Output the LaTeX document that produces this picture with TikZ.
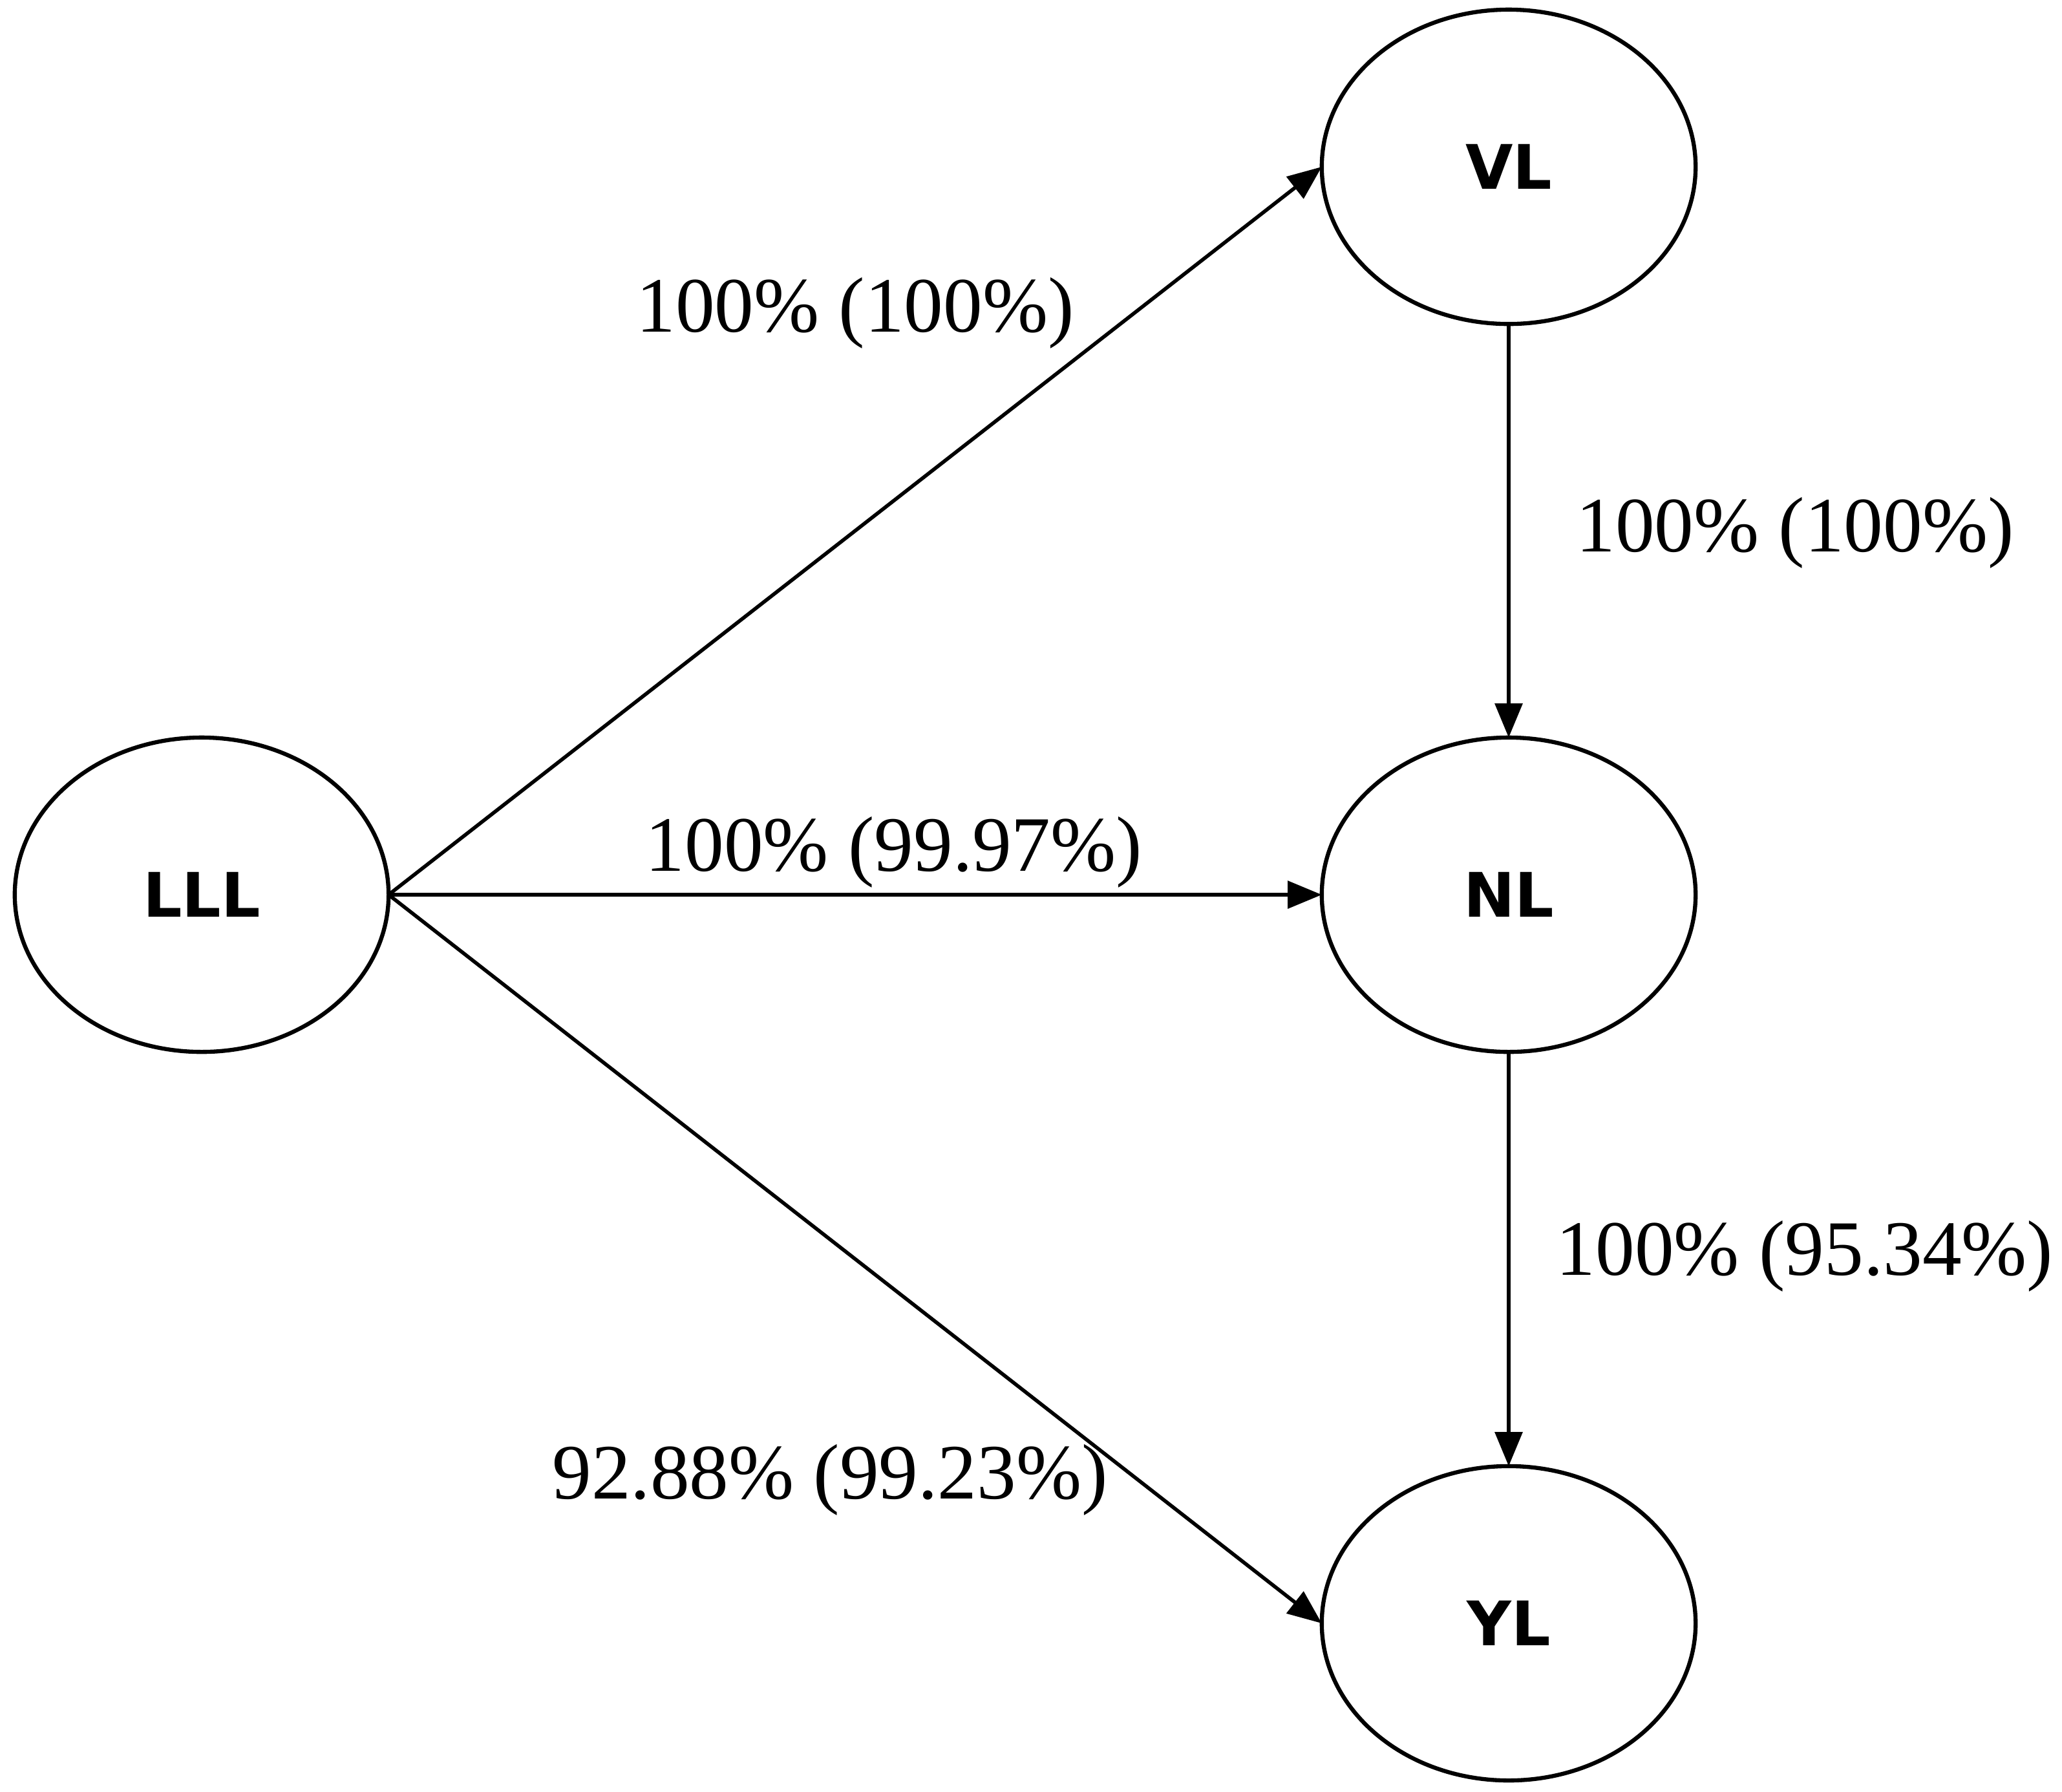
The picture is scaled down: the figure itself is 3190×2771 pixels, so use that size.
\documentclass[tikz,border=0pt]{standalone}
\usepackage{fontspec}
\setmainfont{Liberation Serif}
\newfontfamily\nodefont{DejaVu Sans}
\usetikzlibrary{arrows.meta, positioning, shapes.geometric}

\begin{document}
\begin{tikzpicture}[x=0.01cm, y=-0.01cm, >={Triangle[length=15pt, width=12pt]},
    state/.style={draw, ellipse, line width=1.8pt, minimum width=5.78cm, minimum height=4.86cm,
        inner sep=0pt, outer sep=0pt, font=\nodefont\fontsize{27}{32}\selectfont\bfseries},
    rate/.style={font=\fontsize{34.5}{40}\selectfont, inner sep=0pt},
    link/.style={->, line width=1.6pt}]
    \useasboundingbox (0,0) rectangle (3190,2771);

    % states
    \node[state] (LLL) at (312,1384) {LLL};
    \node[state] (VL) at (2334,258) {VL};
    \node[state] (NL) at (2334,1384) {NL};
    \node[state] (YL) at (2334,2511) {YL};

    % transitions
    \draw[link] (LLL.east) -- (VL.west);
    \draw[link] (LLL.east) -- (NL.west);
    \draw[link] (LLL.east) -- (YL.west);
    \draw[link] (VL.south) -- (NL.north);
    \draw[link] (NL.south) -- (YL.north);

    % rates
    \node[rate] (rVL) at (1323,484) {100\% (100\%)};
    \node[rate] (rVN) at (2777,824) {100\% (100\%)};
    \node[rate] (rNL) at (1383,1318) {100\% (99.97\%)};
    \node[rate] (rNY) at (2792,1943) {100\% (95.34\%)};
    \node[rate] (rYL) at (1284,2289) {92.88\% (99.23\%)};
\end{tikzpicture}
\end{document}
